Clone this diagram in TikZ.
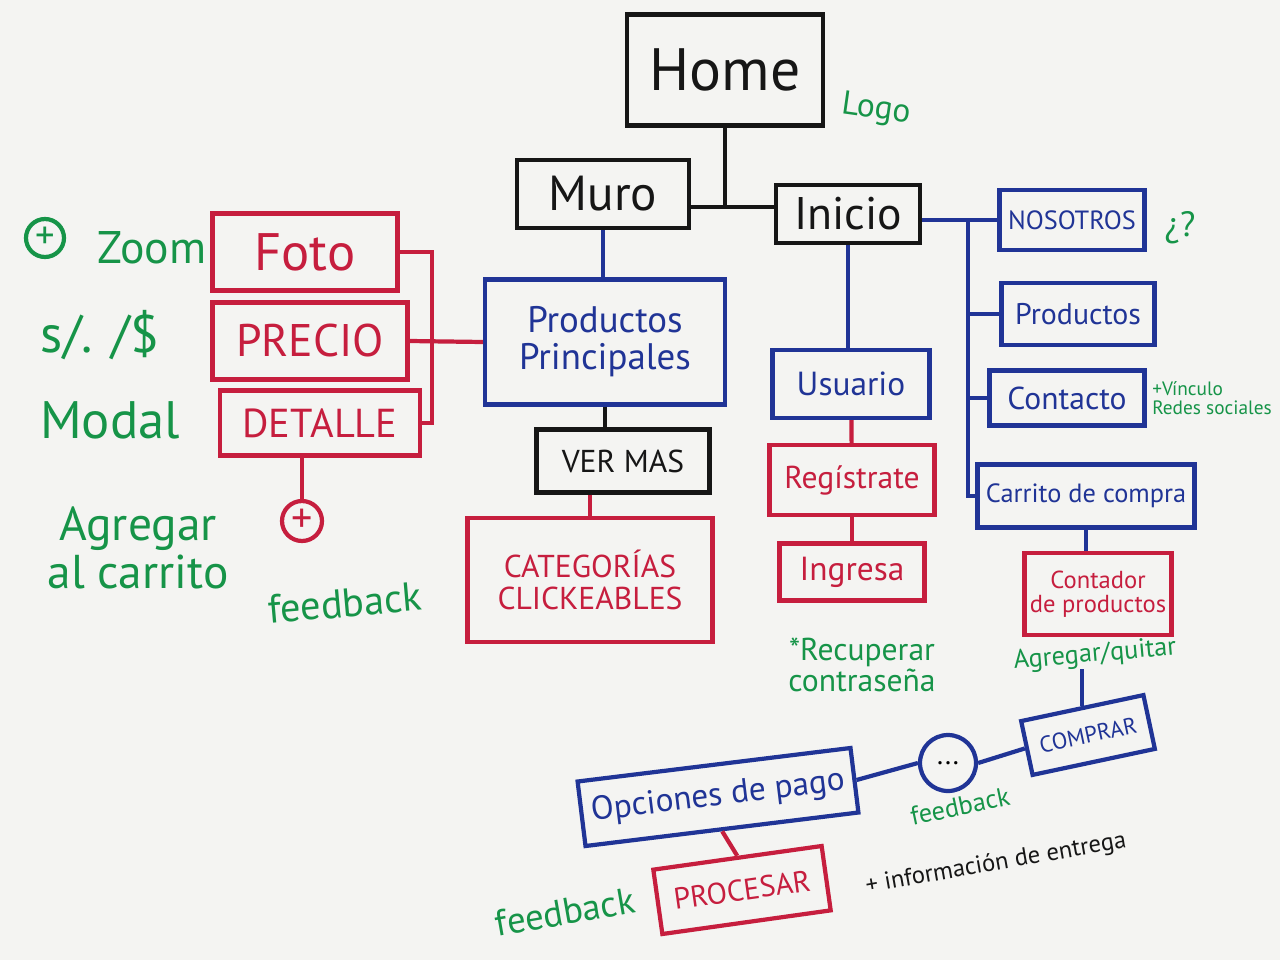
\documentclass[tikz,border=0pt]{standalone}
\usepackage{fontspec}
\setmainfont{PT Sans}
\definecolor{mred}{RGB}{198,30,62}
\definecolor{mblue}{RGB}{32,52,150}
\definecolor{mgreen}{RGB}{22,148,72}
\definecolor{mblack}{RGB}{22,22,22}
\definecolor{board}{RGB}{244,244,242}
\newcommand{\penfs}[1]{\fontsize{#1}{#1}\selectfont}
\begin{document}
\begin{tikzpicture}[x=0.02cm, y=-0.02cm,
    box/.style={draw, line width=2.4pt, align=center, inner sep=2pt},
    wire/.style={line width=2.4pt},
    note/.style={text=mgreen, align=center, inner sep=1pt}]
  \fill[board] (0,0) rectangle (1280,960);
  \useasboundingbox (0,0) rectangle (1280,960);

  % top
  \node[box, mblack, minimum width=3.92cm, minimum height=2.22cm, font=\penfs{34}] (home) at (725,70) {Home};
  \node[box, mblack, minimum width=3.44cm, minimum height=1.36cm, font=\penfs{28}] (muro) at (603,194) {Muro};
  \node[box, mblack, minimum width=2.88cm, minimum height=1.16cm, font=\penfs{26}] (inicio) at (848,214) {Inicio};
  \coordinate (hub) at (725,207);
  \draw[wire, mblack] (home.south) -- (hub);
  \draw[wire, mblack] (muro.east |- hub) -- (inicio.west |- hub);
  \node[note, rotate=-8, font=\penfs{19}] (logo) at (876,110) {Logo};

  % inicio menu
  \node[box, mblue, minimum width=2.9cm, minimum height=1.2cm, font=\penfs{15}] (nosotros) at (1072,220) {NOSOTROS};
  \node[box, mblue, minimum width=3.06cm, minimum height=1.24cm, font=\penfs{17}] (productos) at (1078,314) {Productos};
  \node[box, mblue, minimum width=3.1cm, minimum height=1.1cm, font=\penfs{18}] (contacto) at (1067,398) {Contacto};
  \node[box, mblue, minimum width=4.34cm, minimum height=1.26cm, font=\penfs{15}] (carrito) at (1086,496) {Carrito de compra};
  \coordinate (bus) at (968,220);
  \draw[wire, mblue] (inicio.east |- bus) -- (bus) -- (bus |- carrito.west) -- (carrito.west);
  \foreach \n in {nosotros, productos, contacto}
    \draw[wire, mblue] (\n.west -| bus) -- (\n.west);
  \node[note, font=\penfs{20}] (duda) at (1180,228) {¿?};
  \node[note, align=left, font=\penfs{11}] (vinculo) at (1212,398) {+Vínculo\\Redes sociales};

  % carrito
  \node[box, mred, minimum width=2.94cm, minimum height=1.64cm, font=\penfs{14}] (contador) at (1098,594) {Contador\\de productos};
  \draw[wire, mblue] (carrito.south) -- (carrito.south |- contador.north);
  \node[note, rotate=5, font=\penfs{15}] (agregarq) at (1095,655) {Agregar/quitar};
  \node[box, mblue, rotate=12, minimum width=2.5cm, minimum height=1.1cm, font=\penfs{13}] (comprar) at (1088,735) {COMPRAR};
  \draw[wire, mblue] (agregarq.south -| comprar.north) -- (comprar.north);
  \node[draw=mblue, line width=2.4pt, circle, minimum size=1.12cm, font=\penfs{16}] (dots) at (948,763) {...};
  \node[note, rotate=12, font=\penfs{15}] (fb1) at (960,806) {feedback};
  \node[box, mblue, rotate=7, minimum width=5.5cm, minimum height=1.3cm, font=\penfs{19}] (opciones) at (718,797) {Opciones de pago};
  \draw[wire, mblue] (comprar.west) -- (dots.east);
  \draw[wire, mblue] (dots.west) -- (opciones.east);
  \node[box, mred, rotate=8, minimum width=3.4cm, minimum height=1.3cm, font=\penfs{17}] (procesar) at (742,890) {PROCESAR};
  \draw[wire, mred] (opciones.south) -- (procesar.north);
  \node[note, rotate=10, font=\penfs{21}] (fb2) at (565,912) {feedback};
  \node[text=mblack, rotate=10, font=\penfs{14}] (entrega) at (996,864) {+ información de entrega};

  % usuario
  \node[box, mblue, minimum width=3.14cm, minimum height=1.36cm, font=\penfs{19}] (usuario) at (851,384) {Usuario};
  \node[box, mred, minimum width=3.3cm, minimum height=1.4cm, font=\penfs{18}] (registrate) at (852,480) {Regístrate};
  \node[box, mred, minimum width=2.9cm, minimum height=1.14cm, font=\penfs{19}] (ingresa) at (852,572) {Ingresa};
  \draw[wire, mblue] (inicio.south) -- (inicio.south |- usuario.north);
  \draw[wire, mred] (usuario) -- (registrate);
  \draw[wire, mred] (registrate) -- (ingresa);
  \node[note, font=\penfs{18}] (recuperar) at (862,665) {*Recuperar\\contraseña};

  % muro
  \node[box, mblue, minimum width=4.8cm, minimum height=2.5cm, font=\penfs{21}] (pp) at (605,342) {Productos\\Principales};
  \node[box, mblack, minimum width=3.46cm, minimum height=1.26cm, font=\penfs{18}] (vermas) at (623,461) {VER MAS};
  \node[box, mred, minimum width=4.9cm, minimum height=2.48cm, font=\penfs{18}] (categorias) at (590,580) {CATEGORÍAS\\CLICKEABLES};
  \draw[wire, mblue] (muro.south) -- (muro.south |- pp.north);
  \draw[wire, mblack] (pp.south) -- (pp.south |- vermas.north);
  \draw[wire, mred] (categorias.north |- vermas.south) -- (categorias.north);

  % producto
  \node[box, mred, minimum width=3.7cm, minimum height=1.54cm, font=\penfs{30}] (foto) at (305,252) {Foto};
  \node[box, mred, minimum width=3.9cm, minimum height=1.54cm, font=\penfs{26}] (precio) at (310,341) {PRECIO};
  \node[box, mred, minimum width=4.0cm, minimum height=1.3cm, font=\penfs{23}] (detalle) at (320,423) {DETALLE};
  \coordinate (brk) at (432,252);
  \draw[wire, mred] (foto.east) -- (brk) -- (brk |- detalle.east) -- (detalle.east);
  \draw[wire, mred] (precio.east) -- (pp.west);
  \node[draw=mred, text=mred, line width=2.4pt, circle, minimum size=0.8cm, inner sep=0pt, font=\penfs{24}] (agregar) at (302,521) {+};
  \draw[wire, mred] (detalle.south -| agregar.north) -- (agregar.north);
  \node[draw=mgreen, text=mgreen, line width=2.4pt, circle, minimum size=0.76cm, inner sep=0pt, font=\penfs{22}] (zoomplus) at (45,238) {+};
  \node[note, font=\penfs{26}] (zoom) at (152,248) {Zoom};
  \node[note, font=\penfs{30}] (moneda) at (100,335) {s/. /\$};
  \node[note, font=\penfs{30}] (modal) at (110,420) {Modal};
  \node[note, font=\penfs{27}] (alcarrito) at (138,548) {Agregar\\al carrito};
  \node[note, rotate=5, font=\penfs{23}] (fb3) at (345,603) {feedback};
\end{tikzpicture}
\end{document}
